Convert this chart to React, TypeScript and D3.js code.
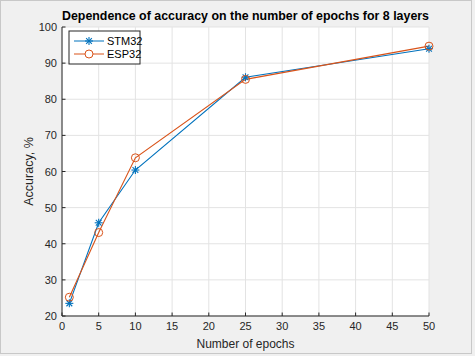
import React from "react";
import * as d3 from "d3";

const epochs = [1, 5, 10, 25, 50];
const stm32 = [23.5, 45.8, 60.4, 86.1, 94.0];
const esp32 = [25.2, 43.1, 63.8, 85.5, 94.7];
const xTicks = [0, 5, 10, 15, 20, 25, 30, 35, 40, 45, 50];
const yTicks = [20, 30, 40, 50, 60, 70, 80, 90, 100];
const seriesNames = ["STM32", "ESP32"];

const W = 475, H = 356;
const M = { left: 62, right: 429, top: 27, bottom: 316 };
const FONT = "'Liberation Sans', Arial, Helvetica, sans-serif";
const BLUE = "#0072BD";
const ORANGE = "#D95319";

function Star({ x, y, c }: { x: number; y: number; c: string }) {
  const r = 4;
  const d = r * 0.72;
  return (
    <g stroke={c} strokeWidth={1.1}>
      <line x1={x - r} y1={y} x2={x + r} y2={y} />
      <line x1={x} y1={y - r} x2={x} y2={y + r} />
      <line x1={x - d} y1={y - d} x2={x + d} y2={y + d} />
      <line x1={x - d} y1={y + d} x2={x + d} y2={y - d} />
    </g>
  );
}

export default function App() {
  const x = d3.scaleLinear().domain([0, 50]).range([M.left, M.right]);
  const y = d3.scaleLinear().domain([20, 100]).range([M.bottom, M.top]);
  const line = d3
    .line<number>()
    .x((_, i) => x(epochs[i]))
    .y((v) => y(v));

  return (
    <div style={{ position: "fixed", left: 0, top: 0 }}>
      <svg width={W} height={H} style={{ display: "block", fontFamily: FONT }}>
        <rect x={0} y={0} width={W} height={H} fill="#f0f0f0" />
        <rect x={0.5} y={0.5} width={W - 4} height={H - 3} fill="none" stroke="#c8c8c8" />
        <rect x={M.left} y={M.top} width={M.right - M.left} height={M.bottom - M.top} fill="#ffffff" />
        {/* grid */}
        {xTicks.map((t) => (
          <line key={"gx" + t} x1={x(t)} x2={x(t)} y1={M.top} y2={M.bottom} stroke="#e3e3e3" strokeWidth={1} />
        ))}
        {yTicks.map((t) => (
          <line key={"gy" + t} x1={M.left} x2={M.right} y1={y(t)} y2={y(t)} stroke="#e3e3e3" strokeWidth={1} />
        ))}
        {/* axes */}
        <line x1={M.left} x2={M.right} y1={M.bottom} y2={M.bottom} stroke="#262626" strokeWidth={1} />
        <line x1={M.left} x2={M.left} y1={M.top} y2={M.bottom} stroke="#262626" strokeWidth={1} />
        {xTicks.map((t) => (
          <g key={"tx" + t}>
            <line x1={x(t)} x2={x(t)} y1={M.bottom} y2={M.bottom - 3.5} stroke="#262626" />
            <text x={x(t)} y={M.bottom + 14} textAnchor="middle" fontSize={11} fill="#262626">{t}</text>
          </g>
        ))}
        {yTicks.map((t) => (
          <g key={"ty" + t}>
            <line x1={M.left} x2={M.left + 3.5} y1={y(t)} y2={y(t)} stroke="#262626" />
            <text x={M.left - 5} y={y(t) + 4} textAnchor="end" fontSize={11} fill="#262626">{t}</text>
          </g>
        ))}
        {/* series */}
        <path d={line(stm32) || ""} fill="none" stroke={BLUE} strokeWidth={1.1} />
        <path d={line(esp32) || ""} fill="none" stroke={ORANGE} strokeWidth={1.1} />
        {stm32.map((v, i) => (
          <Star key={"s" + i} x={x(epochs[i])} y={y(v)} c={BLUE} />
        ))}
        {esp32.map((v, i) => (
          <circle key={"e" + i} cx={x(epochs[i])} cy={y(v)} r={4} fill="none" stroke={ORANGE} strokeWidth={1} />
        ))}
        {/* legend */}
        <rect x={69} y={31} width={71} height={33} fill="#ffffff" stroke="#262626" strokeWidth={1} />
        <line x1={74} x2={104} y1={41} y2={41} stroke={BLUE} />
        <Star x={89} y={41} c={BLUE} />
        <text x={107} y={45} fontSize={11} fill="#000">{seriesNames[0]}</text>
        <line x1={74} x2={104} y1={54} y2={54} stroke={ORANGE} />
        <circle cx={89} cy={54} r={4} fill="#ffffff" stroke={ORANGE} />
        <text x={107} y={58} fontSize={11} fill="#000">{seriesNames[1]}</text>
        {/* titles */}
        <text x={(M.left + M.right) / 2} y={20} textAnchor="middle" fontSize={12.4} fontWeight="bold" fill="#000">
          Dependence of accuracy on the number of epochs for 8 layers
        </text>
        <text x={(M.left + M.right) / 2} y={348} textAnchor="middle" fontSize={12} fill="#262626">
          Number of epochs
        </text>
        <text
          transform={`translate(33,${(M.top + M.bottom) / 2}) rotate(-90)`}
          textAnchor="middle"
          fontSize={12.5}
          fill="#262626"
        >
          Accuracy, %
        </text>
      </svg>
    </div>
  );
}
